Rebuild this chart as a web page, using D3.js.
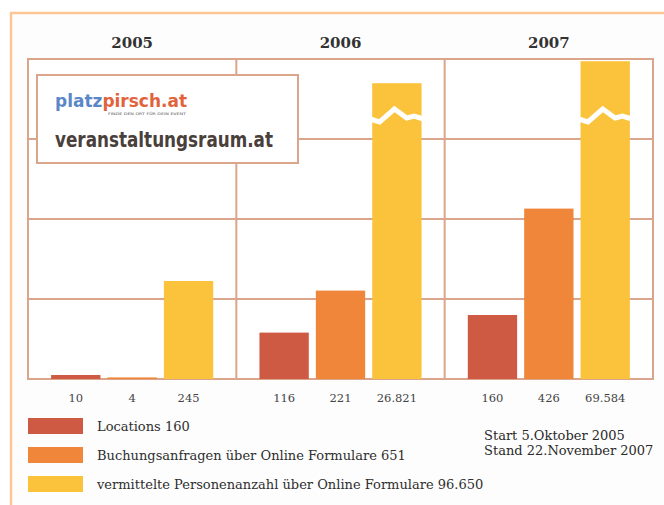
<!DOCTYPE html>
<html><head><meta charset="utf-8">
<script src="https://cdnjs.cloudflare.com/ajax/libs/d3/7.8.5/d3.min.js"></script>
<style>html,body{margin:0;padding:0;background:#fff;}svg{display:block;}</style>
</head><body>
<script>
const years = ["2005", "2006", "2007"];
const seriesKeys = ["locations", "buchungen", "personen"];
const locations = [10, 116, 160];
const buchungen = [4, 221, 426];
const personen = [245, 26821, 69584];
const yTicks = [200, 400, 600, 800];
const legendLabels = [
  "Locations 160",
  "Buchungsanfragen über Online Formulare 651",
  "vermittelte Personenanzahl über Online Formulare 96.650"
];
const noteLines = ["Start 5.Oktober 2005", "Stand 22.November 2007"];
const colors = ["#cf5a43", "#ef863a", "#fbc33b"];
const breakAt = 800;      // values above this are drawn as broken bars
const breakMark = 660;    // where the zigzag is drawn

const W = 664, H = 505;
const svg = d3.select("body").append("svg").attr("width", W).attr("height", H);

// outer frame
svg.append("rect").attr("x", 11).attr("y", 13).attr("width", 700).attr("height", 560)
  .attr("fill", "#fdfdfd").attr("stroke", "#fdc795").attr("stroke-width", 2.5);

const plot = {left: 28, right: 653, top: 59, bottom: 379};
const x0 = d3.scaleBand().domain(years).range([plot.left, plot.right]);
const x1 = d3.scaleBand().domain(seriesKeys).range([0, x0.bandwidth()]).paddingInner(0.125).paddingOuter(0.41);
const y = d3.scaleLinear().domain([0, 800]).range([plot.bottom, plot.top]);
const yUpper = d3.scaleLinear().domain([0, 70000]).range([97, 61]);
const fmt = d3.formatLocale({decimal: ",", thousands: ".", grouping: [3], currency: ["", "€"]}).format(",");

const gridColor = "#dba58c";
svg.append("rect").attr("x", plot.left).attr("y", plot.top)
  .attr("width", plot.right - plot.left).attr("height", plot.bottom - plot.top)
  .attr("fill", "#fff");
svg.append("g").selectAll("line").data(yTicks).join("line")
  .attr("x1", plot.left).attr("x2", plot.right)
  .attr("y1", d => y(d)).attr("y2", d => y(d))
  .attr("stroke", gridColor).attr("stroke-width", 2);
svg.append("g").selectAll("line").data(years.slice(1)).join("line")
  .attr("x1", d => x0(d)).attr("x2", d => x0(d))
  .attr("y1", plot.top).attr("y2", plot.bottom)
  .attr("stroke", gridColor).attr("stroke-width", 2);
svg.append("rect").attr("x", plot.left).attr("y", plot.top)
  .attr("width", plot.right - plot.left).attr("height", plot.bottom - plot.top)
  .attr("fill", "none").attr("stroke", gridColor).attr("stroke-width", 2);

// year labels
svg.append("g").selectAll("text").data(years).join("text")
  .attr("x", d => x0(d) + x0.bandwidth() / 2).attr("y", 48)
  .attr("text-anchor", "middle")
  .attr("font-family", "DejaVu Serif").attr("font-weight", "bold").attr("font-size", 15)
  .attr("fill", "#333").text(d => d);

// logo box
svg.append("rect").attr("x", 37).attr("y", 75).attr("width", 261).attr("height", 88)
  .attr("fill", "#fff").attr("stroke", "#dba58c").attr("stroke-width", 2);
const logo = svg.append("text").attr("x", 55).attr("y", 107)
  .attr("font-family", "DejaVu Sans").attr("font-weight", "bold").attr("font-size", 18)
  .attr("textLength", 132).attr("lengthAdjust", "spacingAndGlyphs");
logo.append("tspan").attr("fill", "#5b87c8").text("platz");
logo.append("tspan").attr("fill", "#e2623c").text("pirsch.at");
svg.append("text").attr("x", 108).attr("y", 115)
  .attr("font-family", "DejaVu Sans").attr("font-size", 3.5).attr("fill", "#555")
  .attr("textLength", 78).attr("lengthAdjust", "spacingAndGlyphs")
  .text("FINDE DEN ORT FÜR DEIN EVENT");
svg.append("text").attr("x", 55).attr("y", 147)
  .attr("font-family", "DejaVu Sans").attr("font-weight", "bold").attr("font-size", 21)
  .attr("textLength", 218).attr("lengthAdjust", "spacingAndGlyphs")
  .attr("fill", "#4a403b").text("veranstaltungsraum.at");

// bars
const rows = years.map((yr, i) => ({
  year: yr,
  vals: [
    {key: "locations", v: locations[i], c: colors[0]},
    {key: "buchungen", v: buchungen[i], c: colors[1]},
    {key: "personen", v: personen[i], c: colors[2]}
  ]
}));
const groups = svg.append("g").selectAll("g").data(rows).join("g")
  .attr("transform", d => `translate(${x0(d.year)},0)`);
groups.selectAll("rect").data(d => d.vals).join("rect")
  .attr("x", d => x1(d.key)).attr("width", x1.bandwidth())
  .attr("y", d => d.v > breakAt ? yUpper(d.v) : y(d.v))
  .attr("height", d => y(0) - (d.v > breakAt ? yUpper(d.v) : y(d.v)))
  .attr("fill", d => d.c);
const bw = x1.bandwidth();
const zig = [[-2, 4], [0.15, 7], [0.45, -6], [0.7, 3], [0.85, 1], [1.04, 4]];
groups.selectAll("path.brk").data(d => d.vals.filter(v => v.v > breakAt)).join("path")
  .attr("class", "brk")
  .attr("d", d => d3.line()(zig.map(p => [x1(d.key) + (p[0] < 0 ? p[0] : p[0] * bw), y(breakMark) + p[1]])))
  .attr("fill", "none").attr("stroke", "#fff").attr("stroke-width", 5);
groups.selectAll("text").data(d => d.vals).join("text")
  .attr("x", d => x1(d.key) + bw / 2).attr("y", 402)
  .attr("text-anchor", "middle")
  .attr("font-family", "DejaVu Serif").attr("font-size", 11.5).attr("fill", "#444")
  .text(d => fmt(d.v));

// legend
const leg = svg.append("g").selectAll("g").data(legendLabels).join("g")
  .attr("transform", (d, i) => `translate(28,${418 + i * 29})`);
leg.append("rect").attr("width", 55).attr("height", 16).attr("fill", (d, i) => colors[i]);
leg.append("text").attr("x", 69).attr("y", 12.5)
  .attr("font-family", "DejaVu Serif").attr("font-size", 13).attr("fill", "#2e2e2e")
  .text(d => d);

// notes
svg.append("g").selectAll("text").data(noteLines).join("text")
  .attr("x", 484).attr("y", (d, i) => 440 + i * 15)
  .attr("font-family", "DejaVu Serif").attr("font-size", 13).attr("fill", "#2a2a2a")
  .text(d => d);
</script>
</body></html>
